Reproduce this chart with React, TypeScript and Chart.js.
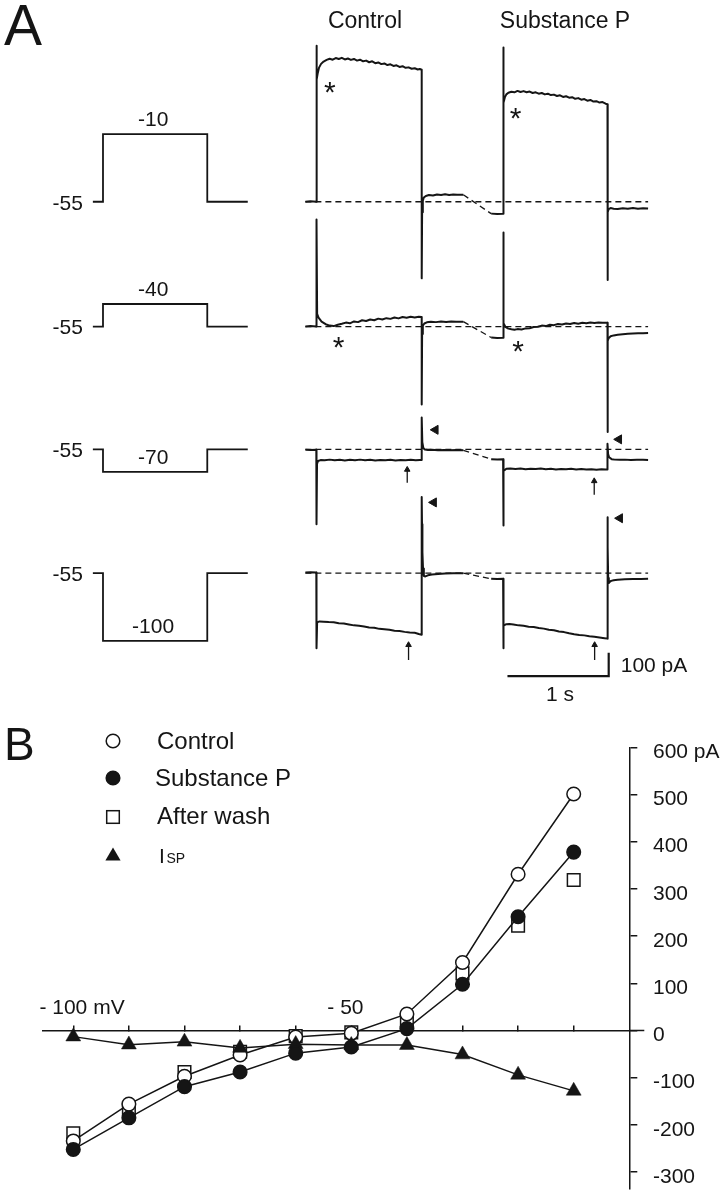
import React, { useEffect, useRef } from 'react';
import { Chart, registerables } from 'chart.js';

Chart.register(...registerables);

// ================= Panel A: voltage protocols =================
const HOLDING_MV = -55;
const HOLDING_LABEL = '-55';
const STEP_MV = [-10, -40, -70, -100];
const STEP_LABELS = ['-10', '-40', '-70', '-100'];
const PROTOCOL_PRE_S = 0.1;
const PROTOCOL_STEP_S = 1.03;
const PROTOCOL_POST_S = 0.4;

// ================= Panel A: membrane current traces =================
const SWEEP_TITLES = ['Control', 'Substance P'];
// time from step onset (s) and current relative to the control holding current (pA)
const CTRL_M10_T = [-0.11, -0.06, -0.002, 0, 0, 0.004, 0.012, 0.025, 0.045, 0.07, 0.1, 0.13, 0.16, 0.19, 0.22, 0.25, 0.28, 0.31, 0.34, 0.37, 0.4, 0.43, 0.46, 0.49, 0.52, 0.55, 0.58, 0.61, 0.64, 0.67, 0.7, 0.73, 0.76, 0.79, 0.82, 0.85, 0.88, 0.91, 0.94, 0.97, 1.0, 1.02, 1.039, 1.039, 1.043, 1.05, 1.06, 1.08, 1.11, 1.15, 1.19, 1.23, 1.27, 1.31, 1.35, 1.39, 1.45];
const CTRL_M10_I = [0, 2, 0, 0, 670, 525, 552, 576, 592, 602, 609, 614, 610, 617, 613, 618, 611, 615, 609, 613, 606, 610, 603, 606, 599, 603, 595, 598, 591, 594, 587, 590, 583, 586, 579, 582, 575, 577, 571, 573, 568, 570, 567, -329, -45, 4, 18, 25, 29, 27, 31, 29, 32, 29, 31, 30, 30];
const SUBP_M10_T = [-0.12, -0.06, -0.002, 0, 0, 0.005, 0.015, 0.03, 0.05, 0.08, 0.11, 0.14, 0.17, 0.2, 0.23, 0.26, 0.29, 0.32, 0.35, 0.38, 0.41, 0.44, 0.47, 0.5, 0.53, 0.56, 0.59, 0.62, 0.65, 0.68, 0.71, 0.74, 0.77, 0.8, 0.83, 0.86, 0.89, 0.92, 0.95, 0.98, 1.01, 1.029, 1.029, 1.033, 1.04, 1.06, 1.09, 1.13, 1.18, 1.23, 1.28, 1.33, 1.38, 1.43];
const SUBP_M10_I = [-51, -53, -52, -52, 662, 425, 448, 461, 468, 472, 470, 476, 471, 475, 470, 473, 467, 470, 464, 467, 461, 464, 458, 460, 454, 457, 450, 453, 447, 449, 442, 445, 438, 441, 434, 437, 430, 432, 426, 428, 421, 419, -336, -45, -32, -27, -30, -31, -28, -30, -27, -30, -28, -29];

const CTRL_M40_T = [-0.11, -0.06, -0.002, 0, 0, 0.006, 0.02, 0.05, 0.09, 0.13, 0.17, 0.21, 0.25, 0.29, 0.33, 0.37, 0.41, 0.45, 0.49, 0.53, 0.57, 0.61, 0.65, 0.69, 0.73, 0.77, 0.81, 0.85, 0.89, 0.93, 0.97, 1.01, 1.039, 1.039, 1.043, 1.05, 1.065, 1.09, 1.13, 1.18, 1.23, 1.28, 1.33, 1.38, 1.45];
const CTRL_M40_I = [0, 2, 0, 0, 460, 55, 38, 21, 10, 4, 2, 8, 12, 17, 14, 22, 19, 27, 24, 30, 27, 34, 30, 36, 33, 39, 35, 41, 38, 42, 39, 42, 41, -335, -32, 4, 13, 18, 21, 19, 22, 20, 22, 21, 21];
const SUBP_M40_T = [-0.12, -0.06, -0.002, 0, 0, 0.006, 0.02, 0.05, 0.08, 0.11, 0.14, 0.18, 0.22, 0.26, 0.3, 0.34, 0.38, 0.42, 0.46, 0.5, 0.54, 0.58, 0.62, 0.66, 0.7, 0.74, 0.78, 0.82, 0.86, 0.9, 0.94, 0.98, 1.029, 1.029, 1.033, 1.04, 1.06, 1.09, 1.13, 1.18, 1.23, 1.28, 1.33, 1.38, 1.43];
const SUBP_M40_I = [-47, -49, -48, -48, 404, 14, -1, -9, -12, -14, -11, -13, -8, -7, -2, -1, 4, 2, 8, 6, 11, 9, 13, 11, 15, 12, 16, 14, 17, 15, 17, 16, 16, -453, -62, -50, -42, -38, -35, -33, -31, -30, -29, -29, -28];

const CTRL_M70_T = [-0.11, -0.06, -0.002, 0, 0, 0.005, 0.015, 0.04, 0.08, 0.13, 0.18, 0.23, 0.28, 0.33, 0.38, 0.43, 0.48, 0.53, 0.58, 0.63, 0.68, 0.73, 0.78, 0.83, 0.88, 0.93, 0.98, 1.02, 1.039, 1.039, 1.045, 1.055, 1.07, 1.1, 1.14, 1.2, 1.26, 1.32, 1.38, 1.45];
const CTRL_M70_I = [-2, -3, -2, -2, -321, -62, -50, -46, -47, -44, -47, -45, -48, -45, -47, -44, -47, -45, -48, -46, -47, -45, -48, -46, -47, -45, -47, -46, -46, 137, 31, 6, -1, -3, -2, -4, -3, -4, -3, -4];
const SUBP_M70_T = [-0.12, -0.06, -0.002, 0, 0, 0.006, 0.03, 0.07, 0.12, 0.17, 0.22, 0.27, 0.32, 0.37, 0.42, 0.47, 0.52, 0.57, 0.62, 0.67, 0.72, 0.77, 0.82, 0.87, 0.92, 0.97, 1.01, 1.029, 1.029, 1.035, 1.045, 1.07, 1.1, 1.15, 1.2, 1.26, 1.32, 1.38, 1.43];
const SUBP_M70_I = [-42, -43, -42, -42, -327, -93, -83, -82, -84, -82, -85, -83, -84, -82, -85, -83, -86, -84, -85, -83, -86, -84, -86, -85, -87, -85, -86, -86, 24, -20, -34, -42, -44, -45, -44, -46, -45, -45, -46];

const CTRL_M100_T = [-0.11, -0.06, -0.002, 0, 0, 0.006, 0.03, 0.07, 0.12, 0.17, 0.22, 0.27, 0.32, 0.37, 0.42, 0.47, 0.52, 0.57, 0.62, 0.67, 0.72, 0.77, 0.82, 0.87, 0.92, 0.97, 1.01, 1.039, 1.039, 1.042, 1.046, 1.052, 1.06, 1.075, 1.1, 1.14, 1.2, 1.27, 1.35, 1.45];
const CTRL_M100_I = [3, 4, 3, 3, -322, -211, -207, -208, -210, -211, -215, -216, -220, -224, -226, -229, -233, -234, -239, -241, -243, -247, -248, -252, -255, -256, -261, -264, 327, 210, 90, 20, -12, -14, -9, -6, -3, -1, 0, 0];
const SUBP_M100_T = [-0.12, -0.06, -0.002, 0, 0, 0.006, 0.03, 0.06, 0.1, 0.15, 0.2, 0.25, 0.3, 0.35, 0.4, 0.45, 0.5, 0.55, 0.6, 0.65, 0.7, 0.75, 0.8, 0.85, 0.9, 0.95, 1.0, 1.029, 1.029, 1.032, 1.036, 1.042, 1.05, 1.065, 1.09, 1.13, 1.2, 1.28, 1.36, 1.43];
const SUBP_M100_I = [-24, -25, -24, -24, -322, -225, -219, -218, -220, -224, -226, -230, -231, -235, -238, -243, -245, -250, -253, -258, -262, -265, -267, -271, -273, -276, -279, -281, 240, 113, -21, -42, -38, -33, -30, -28, -26, -25, -25, -24];

// annotation marks, in sweep time (s) and current (pA)
const ASTERISK_ROW = [0, 0, 1, 1];
const ASTERISK_SWEEP = [0, 1, 0, 1];
const ASTERISK_T = [0.132, 0.122, 0.219, 0.146];
const ASTERISK_PA = [502, 389, -59, -73];
const TAIL_MARK_ROW = [2, 2, 3, 3];
const TAIL_MARK_SWEEP = [0, 1, 0, 1];
const TAIL_MARK_T = [1.175, 1.142, 1.158, 1.151];
const TAIL_MARK_PA = [84, 43, 304, 236];
const ARROW_ROW = [2, 2, 3, 3];
const ARROW_SWEEP = [0, 1, 0, 1];
const ARROW_T = [0.896, 0.898, 0.909, 0.902];
const ARROW_TIP_PA = [-87, -136, -308, -308];
const ARROW_TAIL_PA = [-143, -195, -373, -373];
const SCALE_BAR_S = 1;
const SCALE_BAR_PA = 100;
const SCALE_BAR_LABELS = ['1 s', '100 pA'];

// ================= Panel B: I-V relation =================
const IV_MV = [-100, -90, -80, -70, -60, -50, -40, -30, -20, -10];
const IV_CONTROL = [-234, -156, -97, -52, -14, -6, 35, 144, 331, 501];
const IV_SUBSTANCE_P = [-252, -185, -119, -88, -48, -35, 4, 98, 241, 378];
const IV_AFTER_WASH = [-218, -165, -88, -45, -12, -4, 22, 121, 222, 319];
const IV_ISP = [-13, -30, -24, -37, -29, -31, -31, -51, -94, -128];
const IV_X_TICKS = [-100, -90, -80, -70, -60, -50, -40, -30, -20, -10];
const IV_Y_TICKS = [-300, -200, -100, 0, 100, 200, 300, 400, 500, 600];
const LEGEND_LABELS = ['Control', 'Substance P', 'After wash', 'I'];
const ISP_SUBSCRIPT = 'SP';

// ================= layout & style =================
const FONT = '"Liberation Sans", Arial, Helvetica, sans-serif';
const INK = '#151515';
const W = 727;
const A_H = 715;
const B_TOP = 715;
const B_H = 1199 - B_TOP;
const ROW_BASE_PX = [199, 326, 451, 577];
const PX_PER_S = 103;
const T0_PX = 315.7;
const PX_PER_PA = 0.237;
const PX_PER_MV = 1.53;
const SWEEP_SHIFT_S = [0, 1.845];
const PROTOCOL_SHIFT_S = -2.109;
const SCALE_BAR_T0 = 1.886;
const SCALE_BAR_BOTTOM_PA = -442;
const TITLE_X_PX = [365, 565];

function txt(ctx: CanvasRenderingContext2D, s: string, x: number, y: number, size: number, align: CanvasTextAlign, baseline: CanvasTextBaseline) {
  ctx.font = `normal ${size}px ${FONT}`;
  ctx.textAlign = align;
  ctx.textBaseline = baseline;
  ctx.fillText(s, x, y);
}

function buildPanelA(canvas: HTMLCanvasElement) {
  const rowPA = ROW_BASE_PX.map((b) => (A_H - b) / PX_PER_PA);
  const rowMV = ROW_BASE_PX.map((b) => (A_H - b) / PX_PER_MV - HOLDING_MV);
  const traces = [
    [CTRL_M10_T, CTRL_M10_I, SUBP_M10_T, SUBP_M10_I],
    [CTRL_M40_T, CTRL_M40_I, SUBP_M40_T, SUBP_M40_I],
    [CTRL_M70_T, CTRL_M70_I, SUBP_M70_T, SUBP_M70_I],
    [CTRL_M100_T, CTRL_M100_I, SUBP_M100_T, SUBP_M100_I],
  ];
  const lineDs = (data: any[], extra: any = {}) => ({
    data, showLine: true, borderColor: INK, borderWidth: 1.6, pointRadius: 0, pointHoverRadius: 0,
    borderJoinStyle: 'round', fill: false, ...extra,
  });
  const ds: any[] = [];
  traces.forEach(([cT, cI, sT, sI], r) => {
    const sweep = (T: number[], I: number[], s: number) => T.map((t, k) => ({ x: t + SWEEP_SHIFT_S[s], y: rowPA[r] + I[k] }));
    const c = sweep(cT, cI, 0);
    const p = sweep(sT, sI, 1);
    ds.push(lineDs(c, { borderWidth: 2 }));
    ds.push(lineDs(p, { borderWidth: 2 }));
    ds.push(lineDs([{ x: c[0].x, y: rowPA[r] }, { x: p[p.length - 1].x, y: rowPA[r] }], { borderWidth: 1.3, borderDash: [6, 4] }));
    ds.push(lineDs([c[c.length - 1], p[0]], { borderWidth: 1.3, borderDash: [6, 4] }));
    const t0 = PROTOCOL_SHIFT_S;
    const hold = rowMV[r] + HOLDING_MV;
    const step = rowMV[r] + STEP_MV[r];
    ds.push(lineDs([
      { x: t0 - PROTOCOL_PRE_S, y: hold }, { x: t0, y: hold }, { x: t0, y: step },
      { x: t0 + PROTOCOL_STEP_S, y: step }, { x: t0 + PROTOCOL_STEP_S, y: hold },
      { x: t0 + PROTOCOL_STEP_S + PROTOCOL_POST_S, y: hold },
    ], { yAxisID: 'yv', borderWidth: 1.8, borderJoinStyle: 'miter' }));
  });
  // tail-current arrowheads
  ds.push({
    data: TAIL_MARK_T.map((t, k) => ({ x: t + SWEEP_SHIFT_S[TAIL_MARK_SWEEP[k]], y: rowPA[TAIL_MARK_ROW[k]] + TAIL_MARK_PA[k] })),
    showLine: false, pointStyle: 'triangle', pointRotation: -90, pointRadius: 5.2, pointHoverRadius: 5.2,
    pointBackgroundColor: INK, pointBorderColor: INK, pointBorderWidth: 1,
  });
  // steady-state arrows
  ARROW_T.forEach((t, k) => {
    const x = t + SWEEP_SHIFT_S[ARROW_SWEEP[k]];
    const base = rowPA[ARROW_ROW[k]];
    ds.push({
      data: [{ x, y: base + ARROW_TAIL_PA[k] }, { x, y: base + ARROW_TIP_PA[k] }],
      showLine: true, borderColor: INK, borderWidth: 1.3, pointStyle: 'triangle',
      pointRadius: [0, 3.2], pointHoverRadius: 0, pointBackgroundColor: INK, pointBorderColor: INK, pointBorderWidth: 1,
    });
  });
  // calibration bars
  const yb = rowPA[3] + SCALE_BAR_BOTTOM_PA;
  ds.push(lineDs([
    { x: SCALE_BAR_T0, y: yb }, { x: SCALE_BAR_T0 + SCALE_BAR_S, y: yb }, { x: SCALE_BAR_T0 + SCALE_BAR_S, y: yb + SCALE_BAR_PA },
  ], { borderWidth: 2.2, borderJoinStyle: 'miter' }));

  const textPlugin = {
    id: 'panelAText',
    afterDatasetsDraw(chart: any) {
      const ctx: CanvasRenderingContext2D = chart.ctx;
      const sx = chart.scales.x, sy = chart.scales.y, sv = chart.scales.yv;
      ctx.save();
      ctx.fillStyle = INK;
      txt(ctx, 'A', 4, 45, 57, 'left', 'alphabetic');
      SWEEP_TITLES.forEach((s, i) => txt(ctx, s, TITLE_X_PX[i], 22, 23, 'center', 'middle'));
      ROW_BASE_PX.forEach((_, r) => {
        const xh = sx.getPixelForValue(PROTOCOL_SHIFT_S - PROTOCOL_PRE_S) - 10;
        txt(ctx, HOLDING_LABEL, xh, sv.getPixelForValue(rowMV[r] + HOLDING_MV) + 2, 21, 'right', 'middle');
        const xm = sx.getPixelForValue(PROTOCOL_SHIFT_S + PROTOCOL_STEP_S / 2) - 2;
        txt(ctx, STEP_LABELS[r], xm, sv.getPixelForValue(rowMV[r] + STEP_MV[r]) - 14, 21, 'center', 'middle');
      });
      ASTERISK_T.forEach((t, k) => {
        const x = sx.getPixelForValue(t + SWEEP_SHIFT_S[ASTERISK_SWEEP[k]]);
        const y = sy.getPixelForValue(rowPA[ASTERISK_ROW[k]] + ASTERISK_PA[k]);
        txt(ctx, '*', x, y + 17, 30, 'center', 'alphabetic');
      });
      const bx0 = sx.getPixelForValue(SCALE_BAR_T0);
      const bx1 = sx.getPixelForValue(SCALE_BAR_T0 + SCALE_BAR_S);
      const by0 = sy.getPixelForValue(yb);
      const by1 = sy.getPixelForValue(yb + SCALE_BAR_PA);
      txt(ctx, SCALE_BAR_LABELS[0], (bx0 + bx1) / 2 + 2, by0 + 19, 21, 'center', 'middle');
      txt(ctx, SCALE_BAR_LABELS[1], bx1 + 12, (by0 + by1) / 2 + 1.5, 21, 'left', 'middle');
      ctx.restore();
    },
  };

  return new Chart(canvas, {
    type: 'scatter',
    data: { datasets: ds },
    options: {
      responsive: false, animation: false, devicePixelRatio: 1, events: [],
      layout: { padding: 0 },
      plugins: { legend: { display: false }, tooltip: { enabled: false } },
      scales: {
        x: { type: 'linear', display: false, bounds: 'data', min: -T0_PX / PX_PER_S, max: (W - T0_PX) / PX_PER_S },
        y: { type: 'linear', display: false, bounds: 'data', min: 0, max: A_H / PX_PER_PA },
        yv: { type: 'linear', axis: 'y', display: false, bounds: 'data', min: 0, max: A_H / PX_PER_MV },
      },
    } as any,
    plugins: [textPlugin],
  });
}

function buildPanelB(canvas: HTMLCanvasElement) {
  const pts = (vals: number[]) => IV_MV.map((x, i) => ({ x, y: vals[i] }));
  const common = { borderColor: INK, borderWidth: 1.5, pointBorderColor: INK, pointBorderWidth: 1.5, pointHoverRadius: 0 };
  const tickFont = { family: FONT, size: 21 };
  const zeroPad = (s: any) => { s.paddingLeft = 0; s.paddingRight = 0; s.paddingTop = 0; s.paddingBottom = 0; };

  const legendPlugin = {
    id: 'panelBLegend',
    afterDraw(chart: any) {
      const ctx: CanvasRenderingContext2D = chart.ctx;
      const xs = chart.scales.x, ys = chart.scales.y;
      ctx.save();
      ctx.fillStyle = INK;
      ctx.strokeStyle = INK;
      txt(ctx, 'B', 4, 760 - B_TOP, 46, 'left', 'alphabetic');
      // zero line continues past the current axis
      const x0 = xs.getPixelForValue(0), y0 = ys.getPixelForValue(0);
      ctx.lineWidth = 1.5;
      ctx.beginPath(); ctx.moveTo(x0, y0); ctx.lineTo(x0 + 15, y0); ctx.stroke();
      // legend
      const mx = 113;
      const rows = [741, 778, 817, 854].map((v) => v - B_TOP);
      ctx.lineWidth = 1.5;
      ctx.beginPath(); ctx.arc(mx, rows[0], 6.8, 0, Math.PI * 2); ctx.fillStyle = '#fff'; ctx.fill(); ctx.stroke();
      ctx.beginPath(); ctx.arc(mx, rows[1], 6.8, 0, Math.PI * 2); ctx.fillStyle = INK; ctx.fill(); ctx.stroke();
      ctx.fillStyle = '#fff'; ctx.fillRect(mx - 6.3, rows[2] - 6.3, 12.6, 12.6); ctx.strokeRect(mx - 6.3, rows[2] - 6.3, 12.6, 12.6);
      ctx.fillStyle = INK;
      ctx.beginPath(); ctx.moveTo(mx, rows[3] - 6.5); ctx.lineTo(mx + 7.6, rows[3] + 6.5); ctx.lineTo(mx - 7.6, rows[3] + 6.5); ctx.closePath(); ctx.fill();
      txt(ctx, LEGEND_LABELS[0], 157, rows[0] + 1, 24, 'left', 'middle');
      txt(ctx, LEGEND_LABELS[1], 155, rows[1] + 1, 24, 'left', 'middle');
      txt(ctx, LEGEND_LABELS[2], 157, rows[2] + 0.5, 24, 'left', 'middle');
      const base = rows[3] + 8.5;
      txt(ctx, LEGEND_LABELS[3], 159, base, 21, 'left', 'alphabetic');
      txt(ctx, ISP_SUBSCRIPT, 166.5, base, 14, 'left', 'alphabetic');
      ctx.restore();
    },
  };

  return new Chart(canvas, {
    type: 'scatter',
    data: {
      datasets: [
        { label: 'Substance P', data: pts(IV_SUBSTANCE_P), showLine: true, pointStyle: 'circle', pointRadius: 6.8, pointBackgroundColor: INK, order: 0, ...common },
        { label: 'ISP', data: pts(IV_ISP), showLine: true, pointStyle: 'triangle', pointRadius: 8.6, pointBackgroundColor: INK, order: 1, ...common, pointBorderWidth: 0.5 },
        { label: 'Control', data: pts(IV_CONTROL), showLine: true, pointStyle: 'circle', pointRadius: 6.8, pointBackgroundColor: '#fff', order: 2, ...common },
        { label: 'After wash', data: pts(IV_AFTER_WASH), showLine: false, pointStyle: 'rect', pointRadius: 8.9, pointBackgroundColor: '#fff', order: 3, ...common },
      ],
    },
    options: {
      responsive: false, animation: false, devicePixelRatio: 1, events: [],
      layout: { padding: { left: 42.7, top: 747.3 - B_TOP, right: 0, bottom: B_H - (1193 - B_TOP) } },
      plugins: { legend: { display: false }, tooltip: { enabled: false } },
      scales: {
        x: {
          type: 'linear', position: { y: 0 }, bounds: 'data', min: -105.5, max: 0,
          afterBuildTicks: (s: any) => { s.ticks = IV_X_TICKS.map((v) => ({ value: v })); },
          afterFit: (s: any) => { s.height = 0; zeroPad(s); },
          grid: { display: true, drawOnChartArea: false, drawTicks: true, tickLength: -6, color: INK, lineWidth: 1.5 },
          border: { display: true, color: INK, width: 1.5 },
          ticks: {
            autoSkip: false, maxRotation: 0, minRotation: 0, padding: -28.5, color: INK, font: tickFont,
            callback: (v: number) => (v === -100 ? '   - 100 mV' : v === -50 ? '- 50  ' : ''),
          },
        },
        y: {
          type: 'linear', position: 'right', bounds: 'data', min: -335, max: 600,
          afterBuildTicks: (s: any) => { s.ticks = IV_Y_TICKS.map((v) => ({ value: v })); },
          afterFit: (s: any) => { s.width = W - 629.3; zeroPad(s); },
          grid: { display: true, drawOnChartArea: false, drawTicks: true, tickLength: 8, color: INK, lineWidth: 1.5 },
          border: { display: true, color: INK, width: 1.5 },
          ticks: {
            autoSkip: false, padding: 15.7, labelOffset: 5, color: INK, font: tickFont,
            callback: (v: number) => (v === 600 ? '600 pA' : String(v)),
          },
        },
      },
    } as any,
    plugins: [legendPlugin],
  });
}

export default function App() {
  const refA = useRef<HTMLCanvasElement>(null);
  const refB = useRef<HTMLCanvasElement>(null);
  useEffect(() => {
    const a = buildPanelA(refA.current as HTMLCanvasElement);
    const b = buildPanelB(refB.current as HTMLCanvasElement);
    return () => { a.destroy(); b.destroy(); };
  }, []);
  return (
    <div style={{ position: 'absolute', left: 0, top: 0, width: W, height: 1199, overflow: 'hidden', background: '#fff' }}>
      <canvas ref={refA} width={W} height={A_H} style={{ position: 'absolute', left: 0, top: 0, width: W, height: A_H }} />
      <canvas ref={refB} width={W} height={B_H} style={{ position: 'absolute', left: 0, top: B_TOP, width: W, height: B_H }} />
    </div>
  );
}
